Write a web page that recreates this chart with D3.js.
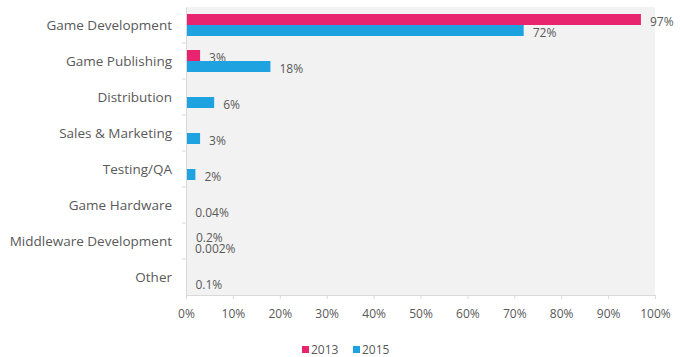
<!DOCTYPE html>
<html>
<head>
<meta charset="utf-8">
<script src="https://cdn.jsdelivr.net/npm/d3@7"></script>
<style>
  body { margin: 0; background: #fff; }
  svg text { font-family: 'Open Sans', sans-serif; }
</style>
</head>
<body>
<svg id="chart" width="680" height="357"></svg>
<script>
const categories = ['Game Development', 'Game Publishing', 'Distribution', 'Sales & Marketing',
  'Testing/QA', 'Game Hardware', 'Middleware Development', 'Other']
const values2013 = [97, 3, null, null, null, null, 0.2, null]
const values2015 = [72, 18, 6, 3, 2, 0.04, 0.002, 0.1]
const labels2013 = ['97%', '3%', '', '', '', '', '0.2%', '']
const labels2015 = ['72%', '18%', '6%', '3%', '2%', '0.04%', '0.002%', '0.1%']
const xTicks = [0, 10, 20, 30, 40, 50, 60, 70, 80, 90, 100]
const seriesNames = ['2013', '2015']
const colors = ['#e8246f', '#1ea3e0']

const svg = d3.select('#chart')
const margin = { top: 7, right: 25, bottom: 62, left: 186 }
const width = +svg.attr('width') - margin.left - margin.right
const height = +svg.attr('height') - margin.top - margin.bottom

const g = svg.append('g').attr('transform', `translate(${margin.left},${margin.top})`)

const x = d3.scaleLinear().domain([0, 100]).range([0, width])
const y = d3.scaleBand().domain(categories).range([0, height])

// plot background
g.append('rect')
  .attr('width', width)
  .attr('height', height)
  .attr('fill', '#f2f2f2')

const series = [values2013, values2015]
const seriesLabels = [labels2013, labels2015]
const barH = 11

series.forEach((vals, si) => {
  const rows = categories.map((c, i) => ({ c, v: vals[i], label: seriesLabels[si][i] }))
    .filter(d => d.v !== null)
  const yOff = si === 0 ? -barH : 0

  g.selectAll('.bar' + si)
    .data(rows)
    .enter().append('rect')
    .attr('x', 0)
    .attr('y', d => y(d.c) + y.bandwidth() / 2 + yOff)
    .attr('width', d => Math.max(x(d.v), 0))
    .attr('height', barH)
    .attr('fill', colors[si])

  g.selectAll('.lab' + si)
    .data(rows)
    .enter().append('text')
    .attr('x', d => x(d.v) + 9)
    .attr('y', d => y(d.c) + y.bandwidth() / 2 + yOff + barH / 2 + 2)
    .attr('dy', '0.35em')
    .style('font-size', '12px')
    .attr('fill', '#595959')
    .text(d => d.label)
})

// x axis
const xAxis = g.append('g')
  .attr('transform', `translate(0,${height})`)
  .call(d3.axisBottom(x).tickValues(xTicks).tickFormat(d => d + '%').tickSize(4).tickPadding(10))
xAxis.select('.domain').attr('stroke', '#d9d9d9')
xAxis.selectAll('.tick line').attr('stroke', '#d9d9d9')
xAxis.selectAll('text').style('font-size', '12px').attr('fill', '#595959')

// y axis
const yAxis = g.append('g')
  .call(d3.axisLeft(y).tickSize(0).tickPadding(14))
yAxis.select('.domain').attr('stroke', '#d9d9d9')
yAxis.selectAll('text').style('font-size', '13.5px').attr('fill', '#595959')
  .attr('dy', '0.35em')
g.selectAll('.ytick')
  .data(categories.slice(1))
  .enter().append('line')
  .attr('x1', -4).attr('x2', 0)
  .attr('y1', d => y(d)).attr('y2', d => y(d))
  .attr('stroke', '#d9d9d9')

// legend
const legend = svg.append('g').attr('transform', 'translate(302,350)')
seriesNames.forEach((name, i) => {
  const lg = legend.append('g').attr('transform', `translate(${i * 51},0)`)
  lg.append('rect').attr('x', 0).attr('y', -4).attr('width', 7).attr('height', 7).attr('fill', colors[i])
  lg.append('text').attr('x', 9).attr('y', 0).attr('dy', '0.35em')
    .style('font-size', '12px').attr('fill', '#595959').text(name)
})
</script>
</body>
</html>
